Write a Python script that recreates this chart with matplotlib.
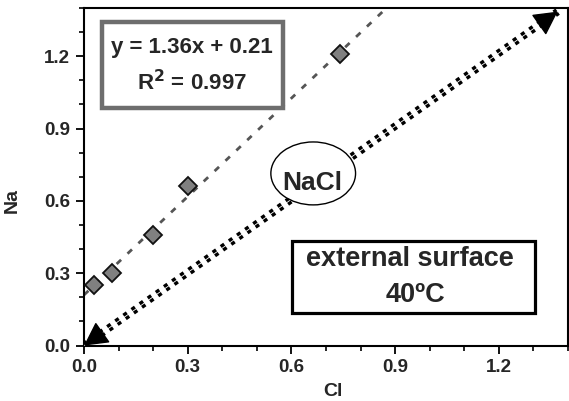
import matplotlib
matplotlib.use("Agg")
import matplotlib.pyplot as plt
from matplotlib.patches import Rectangle, Ellipse
from matplotlib.ticker import MultipleLocator
import numpy as np

plt.rcParams['font.family'] = ['Liberation Sans', 'DejaVu Sans']
plt.rcParams['font.weight'] = 'bold'

# data
cl = [0.03, 0.08, 0.20, 0.30, 0.74]
na = [0.25, 0.30, 0.46, 0.66, 1.21]
slope, intercept = 1.36, 0.21
nacl_start = (0.0, 0.0)
nacl_end = (1.37, 1.385)
xticks = [0.0, 0.3, 0.6, 0.9, 1.2]
yticks = [0.0, 0.3, 0.6, 0.9, 1.2]

txt = '#262626'
fig = plt.figure(figsize=(5.69, 4.01), dpi=100)
ax = fig.add_axes([84/569, 55.4/401, 484/569, 337.6/401])
ax.set_xlim(0, 1.4)
ax.set_ylim(0, 1.4)

# fit line
xf = np.array([0.0, (1.4 - intercept) / slope])
ax.plot(xf, slope * xf + intercept, color='#555555', lw=2.0,
        linestyle=(0, (2.2, 3.2)), zorder=2)
ax.plot(cl, na, linestyle='none', marker='D', markersize=9,
        markerfacecolor='#808080', markeredgecolor='#111111',
        markeredgewidth=1.3, zorder=4)

# NaCl double arrow
ax.plot([nacl_start[0], nacl_end[0]], [nacl_start[1], nacl_end[1]],
        color='black', lw=5.5, linestyle=(0, (0.55, 0.75)), zorder=3,
        dash_capstyle='butt')
ax.plot([nacl_start[0], nacl_end[0]], [nacl_start[1], nacl_end[1]],
        color='white', lw=0.6, zorder=3.1)
dx = (nacl_end[0] - nacl_start[0]) * 0.03
dy = (nacl_end[1] - nacl_start[1]) * 0.03
ax.annotate('', xy=nacl_end, xytext=(nacl_end[0] - dx, nacl_end[1] - dy),
            arrowprops=dict(arrowstyle='-|>,head_length=1.5,head_width=0.8',
                            color='black', lw=1, shrinkA=0, shrinkB=0),
            zorder=5, annotation_clip=False)
ax.annotate('', xy=nacl_start, xytext=(nacl_start[0] + dx, nacl_start[1] + dy),
            arrowprops=dict(arrowstyle='-|>,head_length=1.5,head_width=0.8',
                            color='black', lw=1, shrinkA=0, shrinkB=0),
            zorder=5, annotation_clip=False)

# NaCl ellipse
ax.add_patch(Ellipse((0.663, 0.714), 0.245, 0.261, facecolor='white',
                     edgecolor='black', lw=1.0, zorder=6))
ax.text(0.66, 0.675, 'NaCl', ha='center', va='center', fontsize=19,
        fontweight='bold', color=txt, zorder=7)

# equation box
ax.add_patch(Rectangle((0.0366, 0.703), 0.374, 0.256, transform=ax.transAxes,
                       facecolor='white', edgecolor='#6e6e6e', lw=3.2, zorder=6))
ax.text(0.223, 0.884, 'y = 1.36x + 0.21', transform=ax.transAxes,
        ha='center', va='center', fontsize=16, fontweight='bold', color=txt, zorder=7)
ax.text(0.223, 0.778, 'R$^\\mathbf{2}$ = 0.997', transform=ax.transAxes,
        ha='center', va='center', fontsize=16, fontweight='bold', color=txt, zorder=7)

# external surface box
ax.add_patch(Rectangle((0.430, 0.0965), 0.502, 0.2135, transform=ax.transAxes,
                       facecolor='white', edgecolor='black', lw=2.3, zorder=6))
ax.text(0.673, 0.257, 'external surface', transform=ax.transAxes,
        ha='center', va='center', fontsize=19.5, fontweight='bold', color=txt, zorder=7)
ax.text(0.684, 0.150, '40ºC', transform=ax.transAxes,
        ha='center', va='center', fontsize=19.5, fontweight='bold', color=txt, zorder=7)

# axes styling
ax.set_xticks(xticks)
ax.set_yticks(yticks)
ax.set_xticklabels([f'{v:.1f}' for v in xticks])
ax.set_yticklabels([f'{v:.1f}' for v in yticks])
ax.xaxis.set_minor_locator(MultipleLocator(0.1))
ax.yaxis.set_minor_locator(MultipleLocator(0.1))
ax.tick_params(which='major', direction='out', length=6, width=1.3,
               labelsize=13.5, pad=4, labelcolor=txt)
ax.tick_params(which='minor', direction='out', length=3.5, width=1.2)
for lbl in ax.get_xticklabels() + ax.get_yticklabels():
    lbl.set_fontweight('bold')
for s in ax.spines.values():
    s.set_linewidth(1.5)
ax.set_xlabel('Cl', fontsize=14, fontweight='bold', color=txt)
ax.set_ylabel('Na', fontsize=14, fontweight='bold', color=txt)
ax.xaxis.set_label_coords(0.514, -0.112)
ax.yaxis.set_label_coords(-0.13, 0.43)

fig.savefig('out.png', dpi=100)
